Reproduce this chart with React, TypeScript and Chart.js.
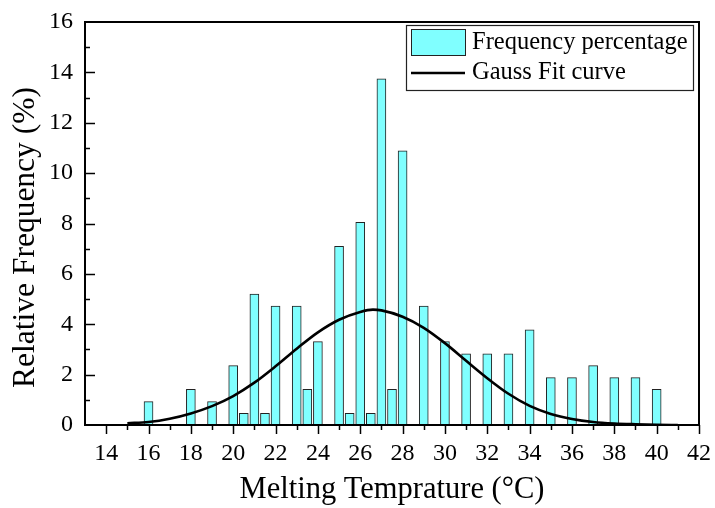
import React, { useEffect, useRef } from 'react';
import { Chart, registerables } from 'chart.js';

Chart.register(...registerables);

// Bin centres (°C) and relative frequencies (%)
const temperatures = [16, 18, 19, 20, 20.5, 21, 21.5, 22, 23, 23.5, 24, 25, 25.5, 26, 26.5, 27, 27.5, 28, 29, 30, 31, 32, 33, 34, 35, 36, 37, 38, 39, 40];
const frequencies = [0.93, 1.42, 0.93, 2.36, 0.46, 5.2, 0.46, 4.72, 4.72, 1.42, 3.31, 7.09, 0.46, 8.05, 0.46, 13.74, 1.42, 10.89, 4.72, 3.31, 2.83, 2.83, 2.83, 3.78, 1.88, 1.88, 2.36, 1.88, 1.88, 1.42];

// Gauss fit curve
const fitX = [15, 16, 17, 18, 19, 20, 21, 22, 23, 24, 25, 26, 26.6, 27, 28, 29, 30, 31, 32, 33, 34, 35, 36, 37, 38, 39, 40, 41];
const fitY = [0.07, 0.12, 0.25, 0.46, 0.75, 1.15, 1.68, 2.33, 3.03, 3.68, 4.18, 4.49, 4.58, 4.55, 4.3, 3.86, 3.25, 2.55, 1.86, 1.24, 0.76, 0.44, 0.24, 0.12, 0.06, 0.03, 0.01, 0.0];

const X_MIN = 13;
const X_MAX = 42;
const Y_MIN = 0;
const Y_MAX = 16;

const X_TITLE = 'Melting Temprature (°C)';
const Y_TITLE = 'Relative Frequency (%)';

const SERIF = "'Liberation Serif', 'Times New Roman', serif";
const BAR_FILL = '#80FFFF';

const framePlugin = {
  id: 'originFrame',
  afterDraw(chart: any) {
    const { ctx, chartArea } = chart;
    const xs = chart.scales.x;
    const ys = chart.scales.y;
    const { left, right, top, bottom } = chartArea;
    ctx.save();
    ctx.strokeStyle = '#000';
    ctx.lineWidth = 2;
    ctx.strokeRect(left, top, right - left, bottom - top);
    // x ticks (outward)
    ctx.lineWidth = 1.5;
    for (let v = X_MIN + 1; v <= X_MAX; v++) {
      const px = Math.round(xs.getPixelForValue(v)) + 0.5;
      const len = v % 2 === 0 ? 9 : 5;
      ctx.beginPath();
      ctx.moveTo(px, bottom);
      ctx.lineTo(px, bottom + len);
      ctx.stroke();
    }
    // y ticks (inward)
    for (let v = Y_MIN + 1; v < Y_MAX; v++) {
      const py = Math.round(ys.getPixelForValue(v)) + 0.5;
      const len = v % 2 === 0 ? 10 : 5;
      ctx.beginPath();
      ctx.moveTo(left, py);
      ctx.lineTo(left + len, py);
      ctx.stroke();
    }
    // y axis title
    ctx.save();
    ctx.fillStyle = '#000';
    ctx.font = `31.5px ${SERIF}`;
    ctx.textAlign = 'center';
    ctx.textBaseline = 'middle';
    ctx.translate(26, (top + bottom) / 2 + 14);
    ctx.rotate(-Math.PI / 2);
    ctx.fillText(Y_TITLE, 0, 0);
    ctx.restore();
    // legend
    const ds = chart.data.datasets;
    const bx = right - 293;
    const by = top + 3;
    const bw = 287;
    const bh = 65;
    ctx.fillStyle = '#fff';
    ctx.fillRect(bx, by, bw, bh);
    ctx.strokeStyle = '#222';
    ctx.lineWidth = 1.2;
    ctx.strokeRect(bx + 0.5, by + 0.5, bw, bh);
    ctx.fillStyle = BAR_FILL;
    ctx.fillRect(bx + 5, by + 4, 54, 26);
    ctx.strokeStyle = '#222';
    ctx.lineWidth = 1;
    ctx.strokeRect(bx + 5.5, by + 4.5, 54, 26);
    ctx.strokeStyle = '#000';
    ctx.lineWidth = 2.5;
    ctx.beginPath();
    ctx.moveTo(bx + 5, by + 48);
    ctx.lineTo(bx + 59, by + 48);
    ctx.stroke();
    ctx.fillStyle = '#000';
    ctx.font = `24.5px ${SERIF}`;
    ctx.textBaseline = 'middle';
    ctx.textAlign = 'left';
    ctx.fillText(ds[0].label, bx + 66, by + 18);
    ctx.fillText(ds[1].label, bx + 66, by + 48);
    ctx.restore();
  },
};

export default function App() {
  const ref = useRef<HTMLCanvasElement>(null);

  useEffect(() => {
    if (!ref.current) return;
    const chart = new Chart(ref.current, {
      type: 'bar',
      data: {
        datasets: [
          {
            type: 'bar',
            label: 'Frequency percentage',
            data: temperatures.map((t, i) => ({ x: t, y: frequencies[i] })),
            backgroundColor: BAR_FILL,
            borderColor: '#222',
            borderWidth: 1,
            barThickness: 9,
            order: 2,
          } as any,
          {
            type: 'line',
            label: 'Gauss Fit curve',
            data: fitX.map((t, i) => ({ x: t, y: fitY[i] })),
            borderColor: '#000',
            borderWidth: 2.6,
            pointRadius: 0,
            fill: false,
            cubicInterpolationMode: 'monotone',
            order: 1,
          } as any,
        ],
      },
      options: {
        responsive: false,
        animation: false,
        layout: { padding: { left: 0, right: 16, top: 22, bottom: 0 } },
        plugins: {
          legend: { display: false },
          tooltip: { enabled: false },
        },
        scales: {
          x: {
            type: 'linear',
            min: X_MIN,
            max: X_MAX,
            offset: false,
            grid: { display: false, drawTicks: false },
            border: { display: false },
            ticks: {
              stepSize: 1,
              autoSkip: false,
              maxRotation: 0,
              padding: 14,
              color: '#000',
              font: { family: SERIF, size: 24 },
              callback: (v: any) => (Number(v) % 2 === 0 ? String(v) : ''),
            },
            title: {
              display: true,
              text: X_TITLE,
              color: '#000',
              font: { family: SERIF, size: 30.5 },
              padding: { top: 0, bottom: 0 },
            },
            afterFit: (s: any) => {
              s.height = 83;
              s.paddingLeft = 0;
              s.paddingRight = 0;
            },
          },
          y: {
            min: Y_MIN,
            max: Y_MAX,
            grid: { display: false, drawTicks: false },
            border: { display: false },
            ticks: {
              stepSize: 1,
              autoSkip: false,
              padding: 12,
              color: '#000',
              font: { family: SERIF, size: 24 },
              callback: (v: any) => (Number(v) % 2 === 0 ? String(v) : ''),
            },
            title: { display: false },
            afterFit: (s: any) => {
              s.width = 85;
              s.paddingTop = 0;
              s.paddingBottom = 0;
            },
          },
        },
      },
      plugins: [framePlugin],
    });
    return () => chart.destroy();
  }, []);

  return (
    <div style={{ position: 'absolute', left: 0, top: 0, width: 715, height: 508, background: '#fff' }}>
      <canvas ref={ref} width={715} height={508} style={{ display: 'block' }} />
    </div>
  );
}
